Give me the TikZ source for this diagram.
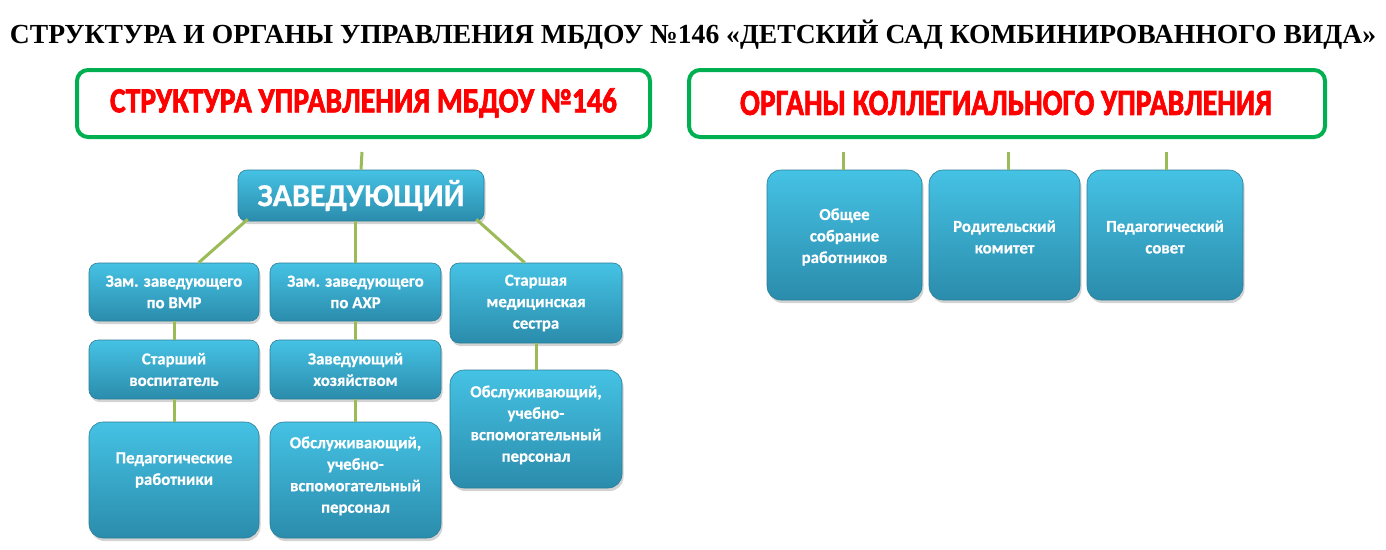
\documentclass[tikz,border=0pt]{standalone}
\usepackage{fontspec}
\setmainfont{Liberation Serif}
\newfontfamily\calib{Carlito}[BoldFeatures={FakeBold=0.6}]
\newfontfamily\heavy{Carlito}[BoldFeatures={FakeBold=2.2}]
\usetikzlibrary{shadows}
\definecolor{boxtop}{HTML}{45C2E4}
\definecolor{boxbot}{HTML}{2B8CAC}
\definecolor{boxline}{HTML}{2A7E98}
\definecolor{lnk}{HTML}{9BBB59}
\definecolor{frame}{HTML}{00B050}
\tikzset{
  x=1pt,y=-1pt,
  box/.style={draw=boxline, line width=0.6pt, rounded corners=9pt, top color=boxtop, bottom color=boxbot,
    drop shadow={opacity=0.35, shadow xshift=1.5pt, shadow yshift=-3pt},
    text=white, font=\calib\bfseries\fontsize{16.8}{21.5}\selectfont, align=center, inner sep=1pt},
  bigbox/.style={box, rounded corners=14pt},
  link/.style={draw=lnk, line width=3pt},
  gframe/.style={draw=frame, line width=4pt, rounded corners=11pt, fill=white},
  redtitle/.style={text=red, font=\heavy\bfseries\fontsize{30}{34}\selectfont},
  txt/.style={text=white, font=\calib\bfseries\fontsize{16.8}{21.5}\selectfont, align=center}
}
\begin{document}
\begin{tikzpicture}
\useasboundingbox (0,0) rectangle (1386,549);
% main title
\node (title) at (693,35) {\resizebox{1366pt}{!}{\bfseries СТРУКТУРА И ОРГАНЫ УПРАВЛЕНИЯ МБДОУ №146 «ДЕТСКИЙ САД КОМБИНИРОВАННОГО ВИДА»}};
% frames
\node[gframe, minimum width=573pt, minimum height=67pt] (lf) at (363.5,103.5) {};
\node[redtitle] (lt) at (363.5,103) {\resizebox{507pt}{24pt}{СТРУКТУРА УПРАВЛЕНИЯ МБДОУ №146}};
\node[gframe, minimum width=636pt, minimum height=67pt] (rf) at (1007,103.5) {};
\node[redtitle] (rt) at (1006,103) {\resizebox{532pt}{24pt}{ОРГАНЫ КОЛЛЕГИАЛЬНОГО УПРАВЛЕНИЯ}};

% left tree
\coordinate (ztop) at (362,152);
\node[box, minimum width=246pt, minimum height=51pt, font=\calib\bfseries\fontsize{32}{34}\selectfont] (zav) at (361,195.5) {ЗАВЕДУЮЩИЙ};
\node[box, minimum width=170pt, minimum height=58pt] (vmr) at (174,292) {Зам. заведующего\\по ВМР};
\node[box, minimum width=171pt, minimum height=58pt] (ahr) at (355.5,292) {Зам. заведующего\\по АХР};
\node[box, minimum width=172pt, minimum height=80pt] (med) at (536,303) {Старшая\\медицинская\\сестра};
\node[box, minimum width=170pt, minimum height=59pt] (vosp) at (174,369.5) {Старший\\воспитатель};
\node[box, minimum width=171pt, minimum height=59pt] (hoz) at (355.5,369.5) {Заведующий\\хозяйством};
\node[bigbox, minimum width=172pt, minimum height=118pt] (obs2) at (536,429) {};
\node[txt] (obs2t) at (536,425) {Обслуживающий,\\учебно-\\вспомогательный\\персонал};
\node[bigbox, minimum width=170pt, minimum height=116pt] (ped) at (174,480) {};
\node[txt] (pedt) at (174,470) {Педагогические\\работники};
\node[bigbox, minimum width=171pt, minimum height=116pt] (obs1) at (355.5,480) {};
\node[txt] (obs1t) at (355.5,476) {Обслуживающий,\\учебно-\\вспомогательный\\персонал};

% connectors
\draw[link] (ztop) -- (zav.north);
\draw[link] ([xshift=10pt,yshift=2pt]zav.south west) -- ([xshift=110pt]vmr.north west);
\draw[link] (zav.south -| ahr.north) -- (ahr.north);
\draw[link] ([xshift=-8pt,yshift=2pt]zav.south east) -- ([xshift=75pt]med.north west);
\draw[link] (vmr.south) -- (vosp.north);
\draw[link] (vosp.south) -- (ped.north);
\draw[link] (ahr.south) -- (hoz.north);
\draw[link] (hoz.south) -- (obs1.north);
\draw[link] (med.south) -- (obs2.north);

% right side
\node[bigbox, minimum width=155pt, minimum height=130pt] (sob) at (844.5,235) {};
\node[txt] (sobt) at (844.5,237) {Общее\\собрание\\работников};
\node[bigbox, minimum width=151pt, minimum height=130pt] (rod) at (1004.5,235) {};
\node[txt] (rodt) at (1004.5,237) {Родительский\\комитет};
\node[bigbox, minimum width=156pt, minimum height=130pt] (pedsov) at (1165,235) {};
\node[txt] (pedsovt) at (1165,237) {Педагогический\\совет};
\coordinate (s1) at (843,152);
\coordinate (s2) at (1008,152);
\coordinate (s3) at (1166,152);
\draw[link] (s1) -- (s1 |- sob.north);
\draw[link] (s2) -- (s2 |- rod.north);
\draw[link] (s3) -- (s3 |- pedsov.north);
\end{tikzpicture}
\end{document}
